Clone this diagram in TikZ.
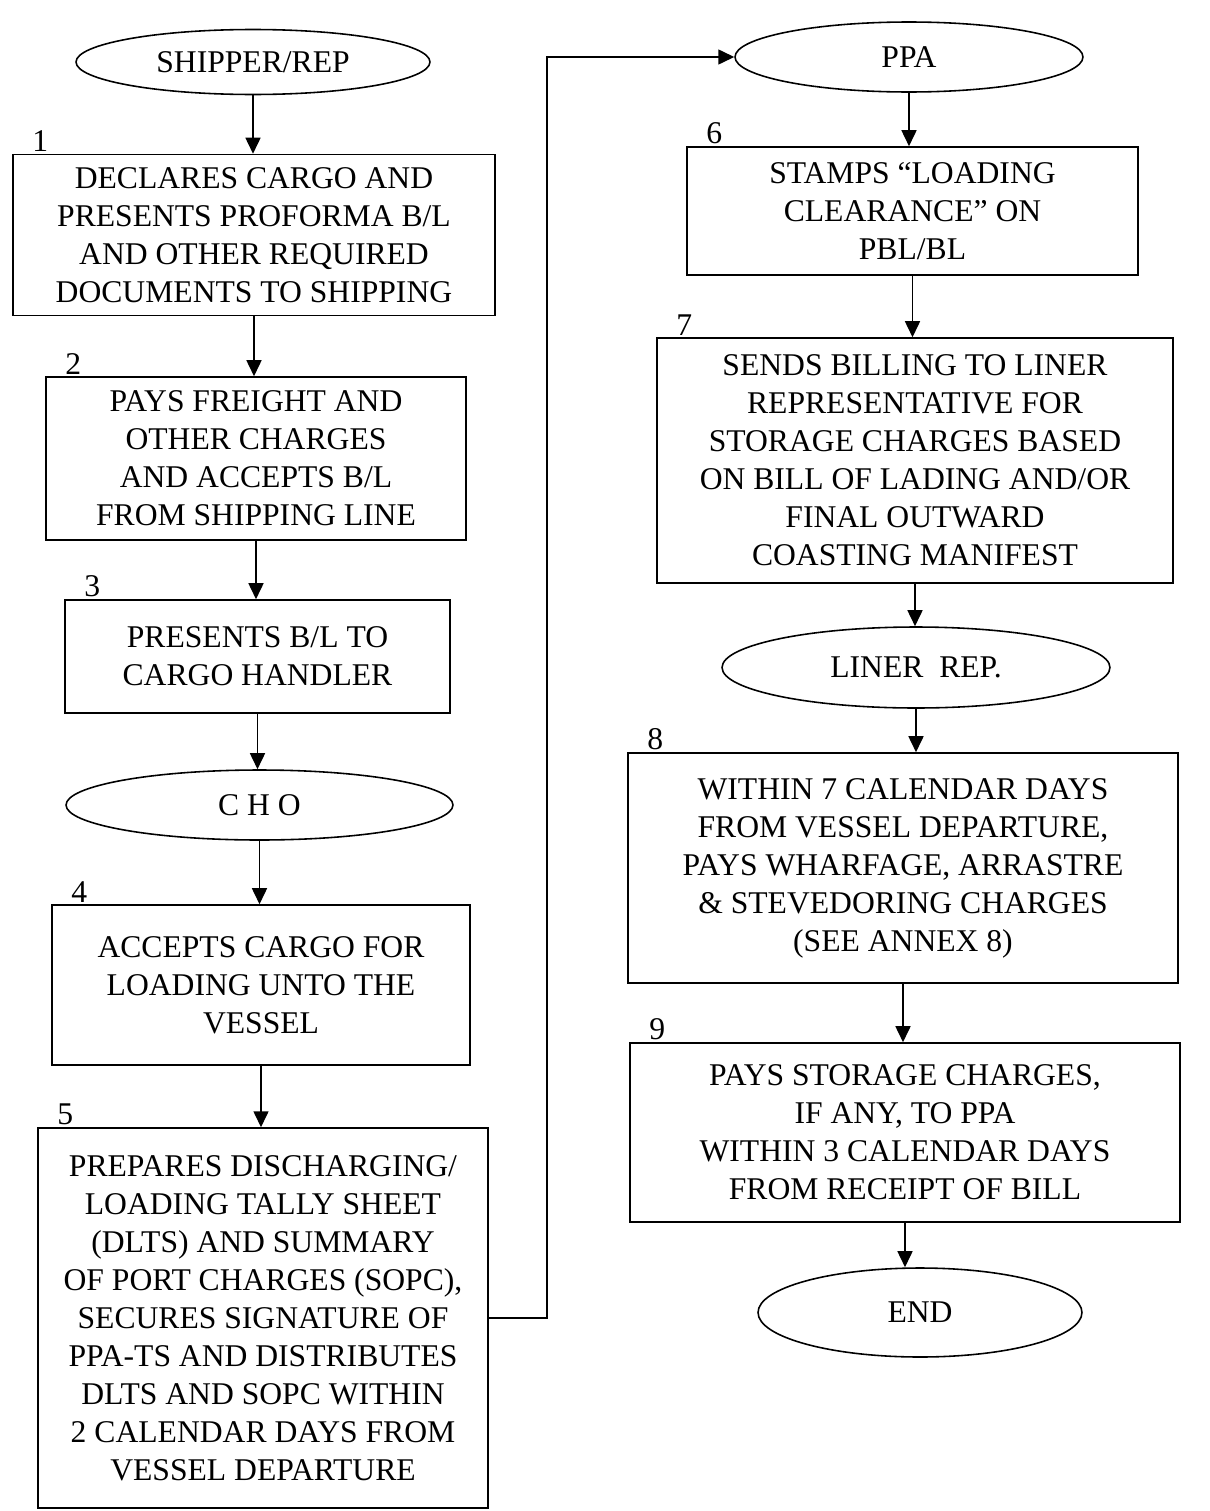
\documentclass[tikz,border=0pt]{standalone}
\usepackage{fontspec}
\setmainfont{Liberation Serif}
\usepackage{tikz}
\usetikzlibrary{arrows.meta, positioning, shapes.geometric}

\begin{document}
\begin{tikzpicture}[
    x=0.02cm, y=-0.02cm,
    block/.style={rectangle, draw=black, line width=0.9pt, align=center, inner sep=2pt, font=\fontsize{18}{21.6}\selectfont},
    party/.style={ellipse, draw=black, line width=0.9pt, inner sep=0pt, font=\fontsize{18}{21.6}\selectfont},
    num/.style={anchor=south west, inner sep=1pt, xshift=0.36cm, font=\fontsize{18}{20}\selectfont},
    arrow/.style={-{Triangle[length=0.32cm, width=0.3cm]}, line width=0.9pt}
]
    \useasboundingbox (0,0) rectangle (1210,1511);

    % left column
    \node[party, minimum width=7.08cm, minimum height=1.3cm] (shipper) at (253,62) {SHIPPER/REP};
    \node[block, minimum width=9.64cm, minimum height=3.22cm, label={[num]north west:1}] (declare) at (254,235)
        {DECLARES CARGO AND\\PRESENTS PROFORMA B/L\\AND OTHER REQUIRED\\DOCUMENTS TO SHIPPING};
    \node[block, minimum width=8.4cm, minimum height=3.26cm, label={[num]north west:2}] (payfreight) at (256,458.5)
        {PAYS FREIGHT AND\\OTHER CHARGES\\AND ACCEPTS B/L\\FROM SHIPPING LINE};
    \node[block, minimum width=7.7cm, minimum height=2.26cm, label={[num]north west:3}] (presentbl) at (257.5,656.5)
        {PRESENTS B/L TO\\CARGO HANDLER};
    \node[party, minimum width=7.74cm, minimum height=1.4cm] (cho) at (259.5,805) {C H O};
    \node[block, minimum width=8.36cm, minimum height=3.2cm, label={[num]north west:4}] (acceptcargo) at (261,985)
        {ACCEPTS CARGO FOR\\LOADING UNTO THE\\VESSEL};
    \node[block, minimum width=9cm, minimum height=7.6cm, label={[num]north west:5}] (prepare) at (263,1318)
        {PREPARES DISCHARGING/\\LOADING TALLY SHEET\\(DLTS) AND SUMMARY\\OF PORT CHARGES (SOPC),\\SECURES SIGNATURE OF\\PPA-TS AND DISTRIBUTES\\DLTS AND SOPC WITHIN\\2 CALENDAR DAYS FROM\\VESSEL DEPARTURE};

    % right column
    \node[party, minimum width=6.96cm, minimum height=1.4cm] (ppa) at (909,57) {PPA};
    \node[block, minimum width=9.02cm, minimum height=2.56cm, label={[num]north west:6}] (stamp) at (912.5,211)
        {STAMPS “LOADING\\CLEARANCE” ON\\PBL/BL};
    \node[block, minimum width=10.32cm, minimum height=4.9cm, label={[num]north west:7}] (billing) at (915,460.5)
        {SENDS BILLING TO LINER\\REPRESENTATIVE FOR\\STORAGE CHARGES BASED\\ON BILL OF LADING AND/OR\\FINAL OUTWARD\\COASTING MANIFEST};
    \node[party, minimum width=7.76cm, minimum height=1.62cm] (liner) at (916,667.5) {LINER~~REP.};
    \node[block, minimum width=11cm, minimum height=4.6cm, label={[num]north west:8}] (paywharf) at (903,868)
        {WITHIN 7 CALENDAR DAYS\\FROM VESSEL DEPARTURE,\\PAYS WHARFAGE, ARRASTRE\\\& STEVEDORING CHARGES\\(SEE ANNEX 8)};
    \node[block, minimum width=11cm, minimum height=3.58cm, label={[num]north west:9}] (paystorage) at (905,1132.5)
        {PAYS STORAGE CHARGES,\\IF ANY, TO PPA\\WITHIN 3 CALENDAR DAYS\\FROM RECEIPT OF BILL};
    \node[party, minimum width=6.48cm, minimum height=1.78cm] (end) at (920,1312.5) {END};

    % flow
    \draw[arrow] (shipper.south) -- (shipper.south |- declare.north);
    \draw[arrow] (declare.south) -- (declare.south |- payfreight.north);
    \draw[arrow] (payfreight.south) -- (payfreight.south |- presentbl.north);
    \draw[arrow] (presentbl.south) -- (presentbl.south |- cho.north);
    \draw[arrow] (cho.south) -- (cho.south |- acceptcargo.north);
    \draw[arrow] (acceptcargo.south) -- (acceptcargo.south |- prepare.north);
    \draw[arrow] (prepare.east) -- ++(58,0) |- (ppa.west);
    \draw[arrow] (ppa.south) -- (ppa.south |- stamp.north);
    \draw[arrow] (stamp.south) -- (stamp.south |- billing.north);
    \draw[arrow] (billing.south) -- (billing.south |- liner.north);
    \draw[arrow] (liner.south) -- (liner.south |- paywharf.north);
    \draw[arrow] (paywharf.south) -- (paywharf.south |- paystorage.north);
    \draw[arrow] (paystorage.south) -- (paystorage.south |- end.north);
\end{tikzpicture}
\end{document}
